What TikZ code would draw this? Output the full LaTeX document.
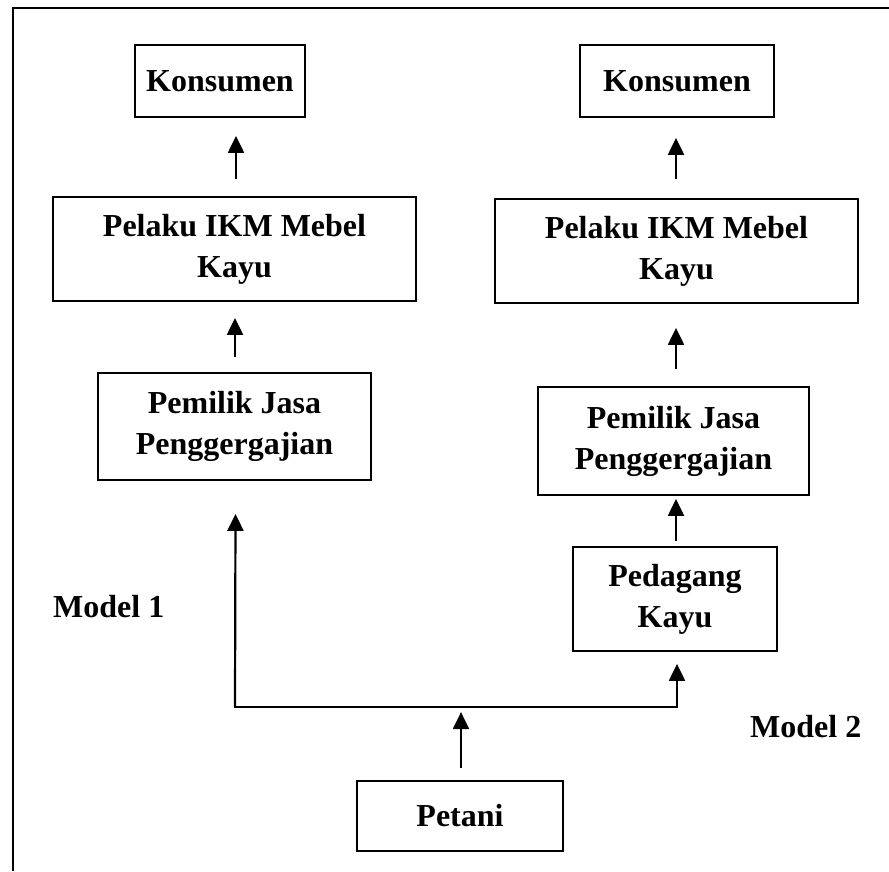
\documentclass[tikz,border=0pt]{standalone}
\usepackage{fontspec}
\setmainfont{Liberation Serif}
\usetikzlibrary{arrows.meta}
\tikzset{
  box/.style={draw, line width=1.8pt, inner sep=0pt, align=center,
    font=\fontsize{32}{41}\selectfont\bfseries},
  arr/.style={line width=2.2pt, -{Triangle[width=16pt,length=17pt]}},
  lbl/.style={anchor=west, inner sep=0pt, font=\fontsize{32}{41}\selectfont\bfseries},
  frame/.style={line width=2pt}
}
\begin{document}
\begin{tikzpicture}[x=1pt,y=-1pt]
\useasboundingbox (0,0) rectangle (889,871);
% frame
\coordinate (fa) at (13,871);
\coordinate (fb) at (13,8);
\coordinate (fc) at (889,8);
\draw[frame] (fa) -- (fb) -- (fc);

% Model 1
\node[box, minimum width=170pt, minimum height=72pt] (k1) at (220,81) {Konsumen};
\node[box, minimum width=363pt, minimum height=104pt] (p1) at (234.5,249) {Pelaku IKM Mebel\\Kayu};
\node[box, minimum width=273pt, minimum height=107pt] (m1) at (234.5,426.5) {Pemilik Jasa\\Penggergajian};

% Model 2
\node[box, minimum width=194pt, minimum height=72pt] (k2) at (677,81) {Konsumen};
\node[box, minimum width=363pt, minimum height=104pt] (p2) at (676.5,251) {Pelaku IKM Mebel\\Kayu};
\node[box, minimum width=271pt, minimum height=108pt] (m2) at (673.5,441) {Pemilik Jasa\\Penggergajian};
\node[box, minimum width=204pt, minimum height=104pt] (d2) at (675,599) {Pedagang\\Kayu};

\node[box, minimum width=206pt, minimum height=70pt] (pt) at (460,816) {Petani};

\node[lbl] (ml1) at (53,607) {Model 1};
\node[lbl] (ml2) at (750,727) {Model 2};

% arrows model 1
\draw[arr] ([shift={(1.5,-17)}]p1.north) -- ([shift={(16,18)}]k1.south);
\draw[arr] ([shift={(0.5,-15)}]m1.north) -- ([shift={(0.5,16)}]p1.south);
% arrows model 2
\draw[arr] ([shift={(-0.5,-19)}]p2.north) -- ([shift={(-1,20)}]k2.south);
\draw[arr] ([shift={(2.5,-17)}]m2.north) -- ([shift={(-0.5,24)}]p2.south);
\draw[arr] ([shift={(1,-5)}]d2.north) -- ([shift={(2.5,3)}]m2.south);

% split from Petani
\coordinate (jl) at (235,707);
\coordinate (jr) at (677,707);
\draw[arr] ([shift={(1,-12)}]pt.north) -- ([shift={(1,-68)}]pt.north);
\draw[line width=2.2pt, line cap=rect] (jl) -- (jr);
\draw[arr] (jl) -- ([shift={(0.5,33)}]m1.south -| jl);
\draw[arr] (jr) -- ([shift={(0,12)}]d2.south -| jr);
\end{tikzpicture}
\end{document}
